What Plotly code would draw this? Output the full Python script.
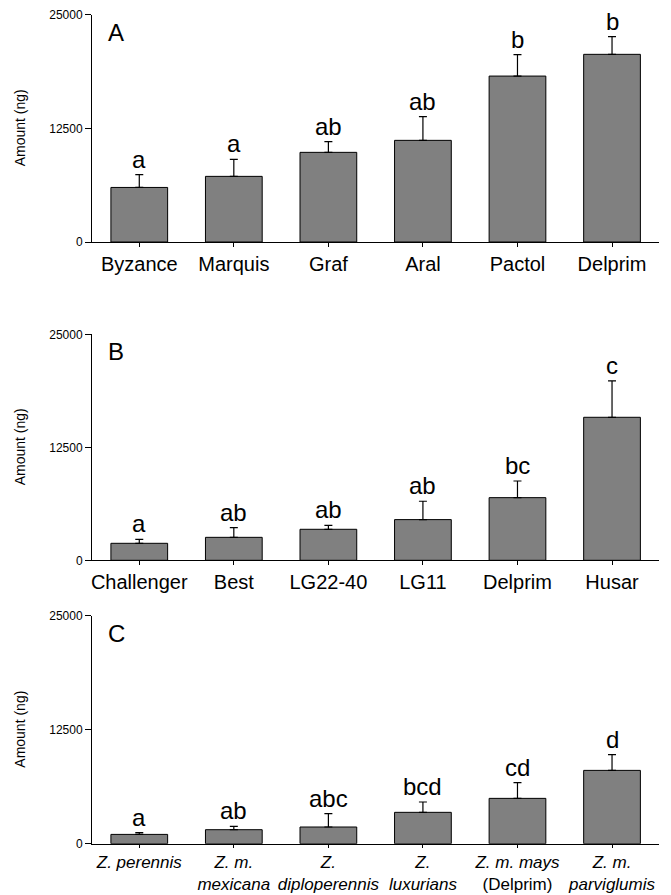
import plotly.graph_objects as go

# Panel A: commercial hybrids
cultivars_a = ["Byzance", "Marquis", "Graf", "Aral", "Pactol", "Delprim"]
mean_a = [6000, 7220, 9860, 11180, 18250, 20640]
se_a = [1400, 1870, 1170, 2600, 2350, 1940]
letters_a = ["a", "a", "ab", "ab", "b", "b"]

# Panel B: inbred lines
cultivars_b = ["Challenger", "Best", "LG22-40", "LG11", "Delprim", "Husar"]
mean_b = [1880, 2540, 3430, 4500, 6930, 15820]
se_b = [440, 1070, 440, 2030, 1840, 4020]
letters_b = ["a", "ab", "ab", "ab", "bc", "c"]

# Panel C: wild Zea taxa
taxa_c = [
    "<i>Z. perennis</i>",
    "<i>Z. m.</i><br><i>mexicana</i>",
    "<i>Z.</i><br><i>diploperennis</i>",
    "<i>Z.</i><br><i>luxurians</i>",
    "<i>Z. m. mays</i><br>(Delprim)",
    "<i>Z. m.</i><br><i>parviglumis</i>",
]
mean_c = [1020, 1535, 1830, 3440, 4970, 8040]
se_c = [190, 365, 1460, 1130, 1720, 1720]
letters_c = ["a", "ab", "abc", "bcd", "cd", "d"]

panel_tags = ["A", "B", "C"]
y_ticks = [0, 12500, 25000]
y_title = "Amount (ng)"

W, H = 671, 895
FONT = "Liberation Sans, Arial, sans-serif"

# plot-area extents in pixels (top, bottom) for each panel
panel_px = [(14.7, 242.0), (334.3, 560.3), (615.7, 843.7)]
x_left_px, x_right_px = 92.0, 659.3
cat_font_size = [20, 20, 17]
cat_tick_len = [4, 4, 3]

panels = [
    (cultivars_a, mean_a, se_a, letters_a),
    (cultivars_b, mean_b, se_b, letters_b),
    (taxa_c, mean_c, se_c, letters_c),
]

fig = go.Figure()
annotations = []
layout_axes = {}

for k, (cats, means, ses, letters) in enumerate(panels):
    n = k + 1
    xa = "x" if n == 1 else f"x{n}"
    ya = "y" if n == 1 else f"y{n}"
    xkey = "xaxis" if n == 1 else f"xaxis{n}"
    ykey = "yaxis" if n == 1 else f"yaxis{n}"
    xpos = list(range(len(cats)))

    fig.add_trace(go.Bar(
        x=xpos, y=means, xaxis=xa, yaxis=ya,
        width=0.6,
        marker=dict(color="#808080", line=dict(color="#000000", width=1)),
        error_y=dict(type="data", symmetric=False, array=ses,
                     arrayminus=[0] * len(ses), color="#000000",
                     thickness=1.2, width=4),
        showlegend=False, hoverinfo="skip",
    ))

    top, bot = panel_px[k]
    layout_axes[xkey] = dict(
        domain=[x_left_px / W, x_right_px / W], anchor=ya,
        range=[-0.5, 5.5], tickmode="array", tickvals=xpos, ticktext=cats,
        tickangle=0, automargin=False,
        showline=True, linecolor="#000000", linewidth=1,
        ticks="outside", ticklen=cat_tick_len[k], tickcolor="#000000",
        tickfont=dict(family=FONT, size=cat_font_size[k], color="#000000"),
        showgrid=False, zeroline=False, fixedrange=True,
    )
    layout_axes[ykey] = dict(
        domain=[1 - bot / H, 1 - top / H], anchor=xa,
        range=[0, 25000], tickmode="array", tickvals=y_ticks,
        ticktext=[str(v) for v in y_ticks], automargin=False,
        showline=True, linecolor="#000000", linewidth=1,
        ticks="outside", ticklen=6, tickcolor="#000000",
        tickfont=dict(family=FONT, size=12, color="#000000"),
        showgrid=False, zeroline=False, fixedrange=True,
    )

    # significance letters above the error bars
    for i, (m, s, lt) in enumerate(zip(means, ses, letters)):
        annotations.append(dict(
            x=i, y=m + s, xref=xa, yref=ya, text=lt, showarrow=False,
            xanchor="center", yanchor="bottom", yshift=0,
            font=dict(family=FONT, size=24, color="#000000"),
        ))

    # panel tag
    annotations.append(dict(
        x=0.024, y=1, xref=f"{xa} domain", yref=f"{ya} domain",
        text=panel_tags[k], showarrow=False, xanchor="left", yanchor="top",
        yshift=-2, font=dict(family=FONT, size=24, color="#000000"),
    ))

    # y-axis title
    annotations.append(dict(
        x=20 / W, y=0.5, xref="paper", yref=f"{ya} domain",
        text=y_title, showarrow=False, textangle=-90,
        xanchor="center", yanchor="middle",
        font=dict(family=FONT, size=14, color="#000000"),
    ))

fig.update_layout(
    width=W, height=H,
    margin=dict(l=0, r=0, t=0, b=0, autoexpand=False),
    paper_bgcolor="#ffffff", plot_bgcolor="#ffffff",
    annotations=annotations,
    **layout_axes,
)

fig.write_html("out.html", config={"displayModeBar": False})
